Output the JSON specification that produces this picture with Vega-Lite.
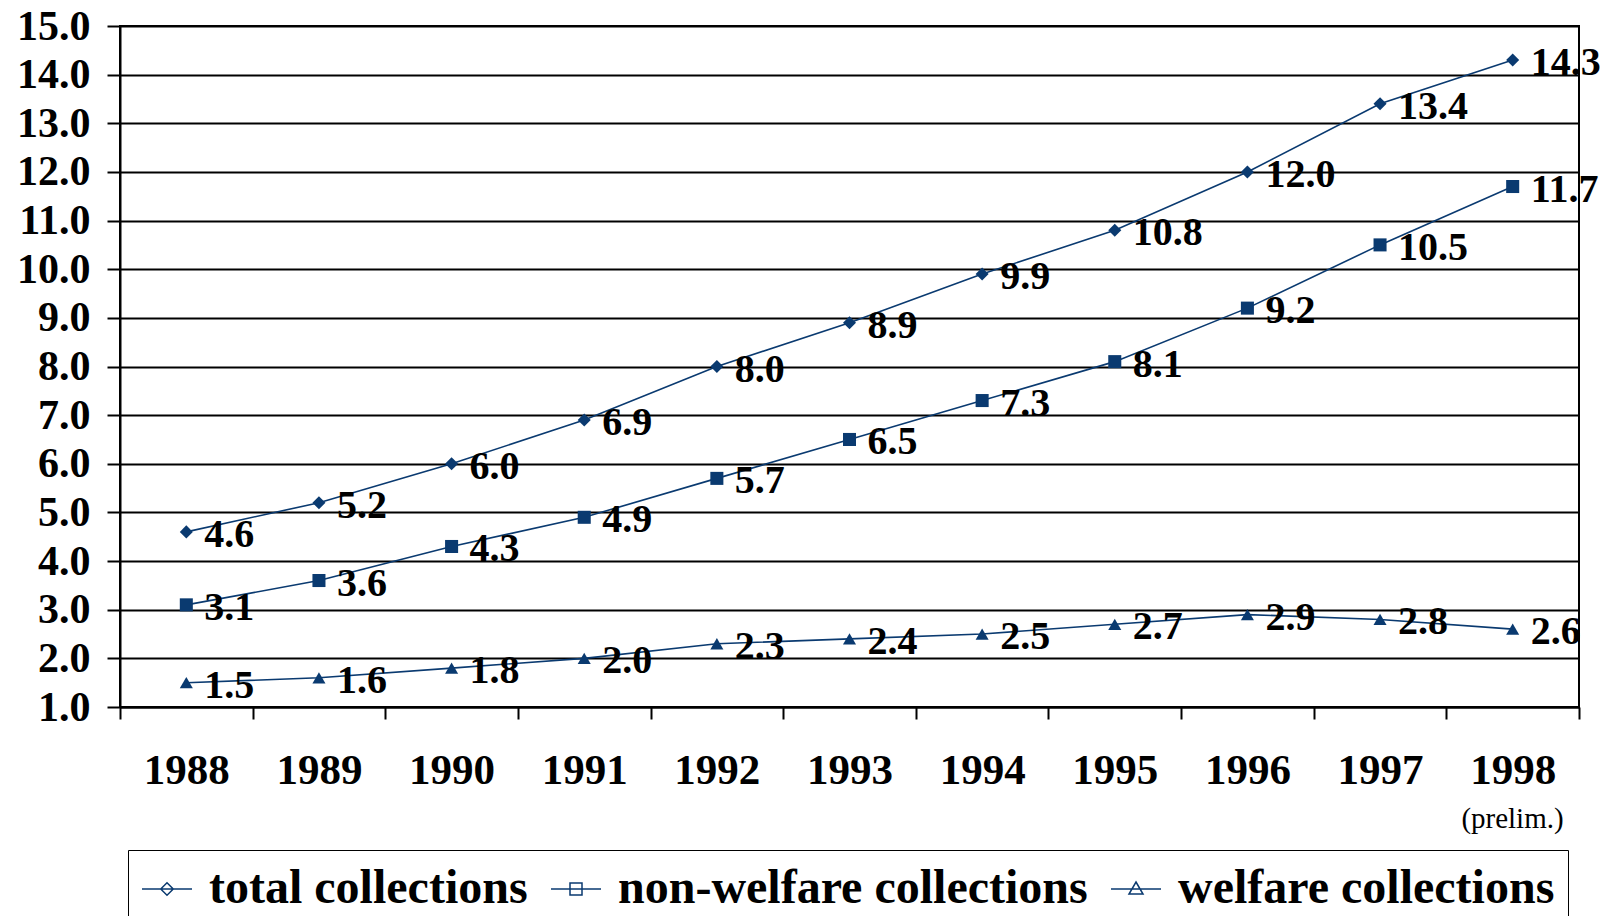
{
  "$schema": "https://vega.github.io/schema/vega-lite/v6.json",
  "width": 1459,
  "height": 681,
  "autosize": "none",
  "padding": {"left": 120, "top": 26, "right": 22, "bottom": 209},
  "background": "white",
  "config": {
    "view": {"stroke": "black", "strokeWidth": 2},
    "font": "Liberation Serif"
  },
  "data": {
    "values": [
      {"year": "1988", "series": "total collections", "value": 4.6},
      {"year": "1989", "series": "total collections", "value": 5.2},
      {"year": "1990", "series": "total collections", "value": 6.0},
      {"year": "1991", "series": "total collections", "value": 6.9},
      {"year": "1992", "series": "total collections", "value": 8.0},
      {"year": "1993", "series": "total collections", "value": 8.9},
      {"year": "1994", "series": "total collections", "value": 9.9},
      {"year": "1995", "series": "total collections", "value": 10.8},
      {"year": "1996", "series": "total collections", "value": 12.0},
      {"year": "1997", "series": "total collections", "value": 13.4},
      {"year": "1998", "series": "total collections", "value": 14.3},
      {"year": "1988", "series": "non-welfare collections", "value": 3.1},
      {"year": "1989", "series": "non-welfare collections", "value": 3.6},
      {"year": "1990", "series": "non-welfare collections", "value": 4.3},
      {"year": "1991", "series": "non-welfare collections", "value": 4.9},
      {"year": "1992", "series": "non-welfare collections", "value": 5.7},
      {"year": "1993", "series": "non-welfare collections", "value": 6.5},
      {"year": "1994", "series": "non-welfare collections", "value": 7.3},
      {"year": "1995", "series": "non-welfare collections", "value": 8.1},
      {"year": "1996", "series": "non-welfare collections", "value": 9.2},
      {"year": "1997", "series": "non-welfare collections", "value": 10.5},
      {"year": "1998", "series": "non-welfare collections", "value": 11.7},
      {"year": "1988", "series": "welfare collections", "value": 1.5},
      {"year": "1989", "series": "welfare collections", "value": 1.6},
      {"year": "1990", "series": "welfare collections", "value": 1.8},
      {"year": "1991", "series": "welfare collections", "value": 2.0},
      {"year": "1992", "series": "welfare collections", "value": 2.3},
      {"year": "1993", "series": "welfare collections", "value": 2.4},
      {"year": "1994", "series": "welfare collections", "value": 2.5},
      {"year": "1995", "series": "welfare collections", "value": 2.7},
      {"year": "1996", "series": "welfare collections", "value": 2.9},
      {"year": "1997", "series": "welfare collections", "value": 2.8},
      {"year": "1998", "series": "welfare collections", "value": 2.6}
    ]
  },
  "encoding": {
    "x": {
      "field": "year",
      "type": "ordinal",
      "scale": {"type": "band", "paddingInner": 0, "paddingOuter": 0},
      "axis": {
        "title": "(prelim.)",
        "titleFont": "Liberation Serif",
        "titleFontWeight": "normal",
        "titleFontSize": 29,
        "titleColor": "black",
        "titleX": 1392,
        "titleY": 111,
        "titleAlign": "center",
        "titleBaseline": "middle",
        "titleAnchor": null,
        "labelAngle": 0,
        "labelFont": "Liberation Serif",
        "labelFontWeight": "bold",
        "labelFontSize": 43,
        "labelColor": "black",
        "labelPadding": 30,
        "tickBand": "extent",
        "tickSize": 12,
        "tickColor": "black",
        "tickWidth": 2,
        "domainColor": "black",
        "domainWidth": 2,
        "grid": false
      }
    },
    "y": {
      "field": "value",
      "type": "quantitative",
      "scale": {"domain": [1, 15], "nice": false, "zero": false},
      "axis": {
        "title": null,
        "values": [1, 2, 3, 4, 5, 6, 7, 8, 9, 10, 11, 12, 13, 14, 15],
        "format": ".1f",
        "labelFont": "Liberation Serif",
        "labelFontWeight": "bold",
        "labelFontSize": 42,
        "labelColor": "black",
        "labelPadding": 17,
        "tickSize": 13,
        "tickColor": "black",
        "tickWidth": 2,
        "domainColor": "black",
        "domainWidth": 2,
        "grid": true,
        "gridColor": "black",
        "gridWidth": 2,
        "gridOpacity": 1
      }
    }
  },
  "layer": [
    {
      "mark": {"type": "line", "color": "#0A3A70", "strokeWidth": 1.6},
      "encoding": {"detail": {"field": "series"}}
    },
    {
      "transform": [{"filter": "datum.series === 'total collections'"}],
      "mark": {"type": "point", "filled": true, "color": "#0A3A70", "opacity": 1, "size": 170, "shape": "diamond"}
    },
    {
      "transform": [{"filter": "datum.series === 'non-welfare collections'"}],
      "mark": {"type": "point", "filled": true, "color": "#0A3A70", "opacity": 1, "size": 170, "shape": "square"}
    },
    {
      "transform": [{"filter": "datum.series === 'welfare collections'"}],
      "mark": {"type": "point", "filled": true, "color": "#0A3A70", "opacity": 1, "size": 170, "shape": "triangle-up"}
    },
    {
      "transform": [{"filter": "datum.value > 100"}],
      "mark": {"type": "point", "filled": false, "color": "#0A3A70", "opacity": 1},
      "encoding": {
        "shape": {
          "field": "series",
          "type": "nominal",
          "scale": {
            "domain": ["total collections", "non-welfare collections", "welfare collections"],
            "range": [
              "M-1,0H1M0,-0.25L0.25,0L0,0.25L-0.25,0Z",
              "M-1,0H1M-0.24,-0.24H0.24V0.24H-0.24Z",
              "M-1,0H1M0,-0.28L0.28,0.2L-0.28,0.2Z"
            ]
          },
          "legend": {
            "title": null,
            "orient": "none",
            "legendX": 8,
            "legendY": 824,
            "direction": "horizontal",
            "strokeColor": "black",
            "padding": 13,
            "symbolSize": 2500,
            "symbolFillColor": "#0A3A70",
            "symbolStrokeColor": "#0A3A70",
            "symbolStrokeWidth": 1.5,
            "symbolOpacity": 1,
            "labelOffset": 16,
            "columnPadding": 20,
            "labelFont": "Liberation Serif",
            "labelFontWeight": "bold",
            "labelFontSize": 48,
            "labelColor": "black",
            "labelLimit": 1000,
            "encode": {
              "legend": {"strokeWidth": {"value": 2}},
              "symbols": {
                "stroke": {"value": "#0A3A70"},
                "strokeWidth": {"value": 1.5},
                "fill": {"value": "#0A3A70"},
                "opacity": {"value": 1}
              }
            }
          }
        }
      }
    },
    {
      "mark": {
        "type": "text",
        "align": "left",
        "baseline": "middle",
        "dx": 18,
        "dy": 3,
        "font": "Liberation Serif",
        "fontWeight": "bold",
        "fontSize": 40,
        "color": "black"
      },
      "encoding": {
        "text": {"field": "value", "type": "quantitative", "format": ".1f"}
      }
    }
  ]
}
